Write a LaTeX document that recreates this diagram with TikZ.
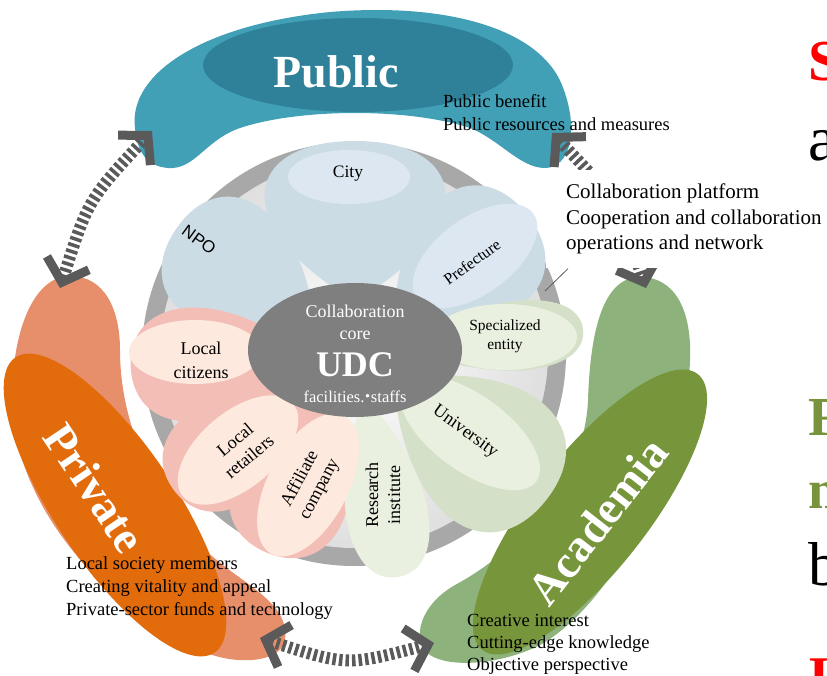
\documentclass[tikz,border=0pt]{standalone}
\usepackage{fontspec}
\setmainfont{Liberation Serif}
\newfontfamily\npofont{Liberation Sans}
\newfontfamily\cjk{Noto Sans CJK JP}
\usetikzlibrary{arrows.meta}

\definecolor{pubout}{HTML}{42A0B6}
\definecolor{pubin}{HTML}{2E8199}
\definecolor{privout}{HTML}{E78E6B}
\definecolor{privin}{HTML}{E26B0C}
\definecolor{acaout}{HTML}{8DB27B}
\definecolor{acain}{HTML}{77953B}
\definecolor{bluepet}{HTML}{CCDCE5}
\definecolor{bluein}{HTML}{DCE7F2}
\definecolor{pinkpet}{HTML}{F3BEB6}
\definecolor{pinkin}{HTML}{FDE9DD}
\definecolor{greenpet}{HTML}{D4E0C8}
\definecolor{greenin}{HTML}{E9F0DF}
\definecolor{coregray}{HTML}{7F7F7F}
\definecolor{arrowgray}{HTML}{5A5A5A}
\definecolor{ringgray}{HTML}{A8A8A8}
\definecolor{slidered}{HTML}{FF0000}
\definecolor{slidegreen}{HTML}{77933C}

\begin{document}
\begin{tikzpicture}[x=1pt,y=-1pt]

  \tikzstyle{petal} = [draw=white, line width=2pt]
  \tikzstyle{petaltext} = [inner sep=0pt, align=center, font=\fontsize{18}{22}\selectfont]
  \tikzstyle{bigword} = [inner sep=0pt, text=white, font=\fontsize{46}{50}\selectfont\bfseries]
  \tikzstyle{remark} = [anchor=north west, inner sep=0pt, align=left, font=\fontsize{18.5}{23}\selectfont]
  \tikzstyle{sideletter} = [anchor=base west, inner sep=0pt]
  \tikzstyle{link} = [draw=arrowgray, line width=12pt, dash pattern=on 3.5pt off 3pt, {Straight Barb[sharp, line width=9pt, length=20pt, width=44pt]}-{Straight Barb[sharp, line width=9pt, length=20pt, width=44pt]}]

  \useasboundingbox (0,0) rectangle (827,675);
  \fill[white] (0,0) rectangle (827,675);

  % ring behind the petals
  \coordinate (C) at (354,354);
  \fill[ringgray] (C) circle [radius=212pt];
  \shade[inner color=white, outer color=gray!25] (C) circle [radius=194pt];

  % three sectors
  \fill[pubout] (135,128) .. controls (128,75) and (200,25) .. (330,12)
    .. controls (450,2) and (540,30) .. (562,85)
    .. controls (580,130) and (570,168) .. (545,168)
    .. controls (520,168) and (500,140) .. (470,128)
    .. controls (410,108) and (300,108) .. (240,128)
    .. controls (205,140) and (195,170) .. (168,168)
    .. controls (145,166) and (137,150) .. (135,128) -- cycle;
  \fill[pubin] (358,65) ellipse [x radius=155pt, y radius=47pt];

  \fill[privout] (70,276) .. controls (105,276) and (120,310) .. (120,350)
    .. controls (120,420) and (150,490) .. (200,545)
    .. controls (240,585) and (290,600) .. (285,640)
    .. controls (280,665) and (230,665) .. (200,650)
    .. controls (110,610) and (30,520) .. (15,430)
    .. controls (5,360) and (25,276) .. (70,276) -- cycle;
  \fill[privin, rotate around={-56:(115,505)}] (115,505) ellipse [x radius=178pt, y radius=60pt];

  \fill[acaout] (640,277) .. controls (675,277) and (692,310) .. (690,360)
    .. controls (688,450) and (620,600) .. (540,645)
    .. controls (500,665) and (450,668) .. (430,655)
    .. controls (410,640) and (420,605) .. (455,585)
    .. controls (520,550) and (585,480) .. (588,400)
    .. controls (590,340) and (600,277) .. (640,277) -- cycle;
  \fill[acain, rotate around={52:(590,512)}] (590,512) ellipse [x radius=175pt, y radius=58pt];

  % petals
  \foreach \ang/\len/\wid/\col in {146/215/76/bluepet, 90/208/106/bluepet, 38/218/78/bluepet,
      185/224/66/pinkpet, 218/228/62/pinkpet, 246/220/68/pinkpet,
      322/242/86/greenpet, 281/230/47/greenin, 5/228/40/greenpet} {
    \begin{scope}[shift={(355,350)}, rotate=\ang]
      \fill[petal, \col] (50pt,0pt) .. controls ({0.6*\len pt},{-1.2*\wid pt}) and ({\len pt},{-1.05*\wid pt}) .. ({\len pt},0pt)
        .. controls ({\len pt},{1.05*\wid pt}) and ({0.6*\len pt},{1.2*\wid pt}) .. (50pt,0pt) -- cycle;
    \end{scope}
  }
  \fill[bluein] (349,177) ellipse [x radius=61pt, y radius=27pt];
  \fill[bluein, rotate around={36:(475,256)}] (475,256) ellipse [x radius=72pt, y radius=38pt];
  \fill[pinkin] (195,352) ellipse [x radius=66pt, y radius=32pt];
  \fill[pinkin, rotate around={40:(238,450)}] (238,450) ellipse [x radius=72pt, y radius=38pt];
  \fill[pinkin, rotate around={62:(308,485)}] (308,485) ellipse [x radius=78pt, y radius=40pt];
  \fill[greenin, rotate around={-36:(470,433)}] (470,433) ellipse [x radius=82pt, y radius=38pt];
  \fill[greenin] (505,337) ellipse [x radius=72pt, y radius=33pt];

  % core
  \fill[coregray] (355,350) ellipse [x radius=107pt, y radius=67pt];
  \node[petaltext, text=white] (core) at (355,322) {Collaboration\\core};
  \node[anchor=base, inner sep=0pt, text=white, font=\fontsize{36}{40}\selectfont\bfseries] (udc) at (355,376) {UDC};
  \node[anchor=base, inner sep=0pt, text=white, font=\fontsize{16.5}{20}\selectfont] (staff) at (355,402) {facilities.{\cjk\kern-5pt ・\kern-5pt}staffs};

  % petal labels
  \node[petaltext, anchor=base, font=\fontsize{17.5}{20}\selectfont] (city) at (348,177) {City};
  \node[petaltext, font=\npofont\fontsize{17}{20}\selectfont, rotate=-36] (npo) at (199,240) {NPO};
  \node[petaltext, font=\fontsize{16}{19}\selectfont, rotate=36] (pref) at (472,262) {Prefecture};
  \node[petaltext, font=\fontsize{18}{24}\selectfont] (citizens) at (201,360) {Local\\citizens};
  \node[petaltext, font=\fontsize{15.5}{19}\selectfont] (special) at (505,336) {Specialized\\entity};
  \node[petaltext, rotate=40] (retailers) at (242,448) {Local\\retailers};
  \node[petaltext, rotate=62] (affiliate) at (310,484) {Affiliate\\company};
  \node[petaltext, rotate=90] (research) at (383,495) {Research\\institute};
  \node[petaltext, rotate=-36] (univ) at (465,432) {University};

  % sector names
  \node[bigword, anchor=base] (public) at (336,87) {Public};
  \node[bigword, rotate=-56] (private) at (95,488) {Private};
  \node[bigword, rotate=52] (academia) at (598,521) {Academia};

  % links between sectors
  \coordinate (pubL) at (152,131);
  \coordinate (privT) at (60,288);
  \coordinate (privR) at (260,638);
  \coordinate (acaL) at (434,643);
  \coordinate (acaT) at (646,288);
  \coordinate (pubR) at (552,133);
  \draw[link] (privT) .. controls (88,200) .. (pubL);
  \draw[link] (privR) .. controls (347,666) .. (acaL);
  \draw[link] (pubR) .. controls (616,200) .. (acaT);

  % remarks
  \node[remark] (pubtext) at (443,94) {Public benefit\\Public resources and measures};
  \node[remark] (privtext) at (66,556) {Local society members\\Creating vitality and appeal\\Private-sector funds and technology};
  \node[remark, font=\fontsize{18.5}{22}\selectfont] (acatext) at (467,614) {Creative interest\\Cutting-edge knowledge\\Objective perspective};
  \node[remark, fill=white, inner xsep=20pt, inner ysep=14pt, font=\fontsize{21}{25.5}\selectfont] (platform) at (546,170)
    {Collaboration platform\\Cooperation and collaboration\\operations and network};
  \coordinate (ptr) at (545,291);
  \draw[arrowgray, line width=0.8pt] (ptr) -- ([xshift=22pt]platform.south west);

  % letters of the next slide
  \node[sideletter, text=slidered, font=\fontsize{58}{60}\selectfont\bfseries] (sideS) at (808,80) {S};
  \node[sideletter, font=\fontsize{64}{66}\selectfont] (sidea) at (808,160) {a};
  \node[sideletter, text=slidegreen, font=\fontsize{55}{60}\selectfont\bfseries] (sideF) at (808,435) {F};
  \node[sideletter, text=slidegreen, font=\fontsize{55}{60}\selectfont\bfseries] (sidem) at (808,508) {m};
  \node[sideletter, font=\fontsize{62}{66}\selectfont] (sideb) at (808,585) {b};
  \node[sideletter, text=slidered, font=\fontsize{56}{60}\selectfont\bfseries] (sideI) at (808,695) {I};

\end{tikzpicture}
\end{document}
